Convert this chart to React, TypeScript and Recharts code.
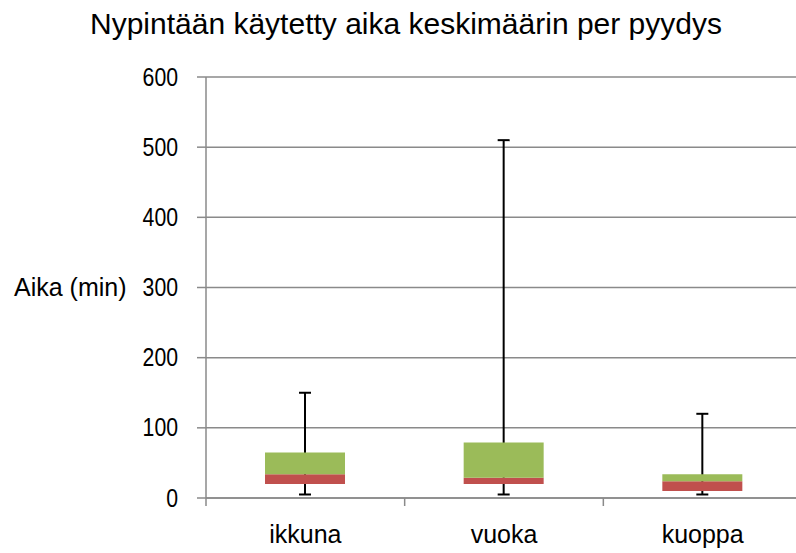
import React from 'react';
import { ComposedChart, Bar, XAxis, YAxis, CartesianGrid } from 'recharts';

const categories = ['ikkuna', 'vuoka', 'kuoppa'];
const minValues = [5, 5, 5];
const q1Values = [20, 20, 10];
const medianValues = [34, 29, 24];
const q3Values = [65, 79, 34];
const maxValues = [150, 510, 120];
const yTicks = [0, 100, 200, 300, 400, 500, 600];

const data = categories.map((name, i) => ({
  name,
  base: q1Values[i],
  lower: medianValues[i] - q1Values[i],
  upper: q3Values[i] - medianValues[i],
  range: [minValues[i], maxValues[i]],
}));

const GRAY = '#8a8a8a';
const FONT = 'Liberation Sans, Arial, sans-serif';

function Whisker(props: { x?: number; y?: number; width?: number; height?: number }) {
  const { x = 0, y = 0, width = 0, height = 0 } = props;
  const cx = x + width / 2;
  return (
    <g stroke="#000" strokeWidth={2}>
      <line x1={cx} y1={y} x2={cx} y2={y + height} />
      <line x1={x} y1={y} x2={x + width} y2={y} />
      <line x1={x} y1={y + height} x2={x + width} y2={y + height} />
    </g>
  );
}

// category label plus the tick marks on the band edges
function CategoryTick(props: {
  x?: number;
  y?: number;
  width?: number;
  index?: number;
  visibleTicksCount?: number;
  payload?: { value: string };
}) {
  const { x = 0, y = 0, width = 0, index = 0, visibleTicksCount = 3, payload } = props;
  const band = width / visibleTicksCount;
  return (
    <g>
      {index === 0 && (
        <line x1={x - band / 2} y1={y} x2={x - band / 2} y2={y + 8} stroke={GRAY} strokeWidth={1.5} />
      )}
      <line x1={x + band / 2} y1={y} x2={x + band / 2} y2={y + 8} stroke={GRAY} strokeWidth={1.5} />
      <text x={x} y={y + 45} textAnchor="middle" fontSize={25} fontFamily={FONT} fill="#000">
        {payload ? payload.value : ''}
      </text>
    </g>
  );
}

function ValueTick(props: { x?: number; y?: number; payload?: { value: number } }) {
  const { x = 0, y = 0, payload } = props;
  return (
    <text
      transform={`translate(${x},${y}) scale(0.85,1)`}
      textAnchor="end"
      dominantBaseline="central"
      fontSize={25}
      fontFamily={FONT}
      fill="#000"
    >
      {payload ? payload.value : ''}
    </text>
  );
}

export default function App() {
  return (
    <div
      style={{
        position: 'fixed',
        left: 0,
        top: 0,
        width: 796,
        height: 553,
        overflow: 'hidden',
        background: '#fff',
      }}
    >
      <div
        style={{
          position: 'absolute',
          left: 0,
          top: 9,
          width: 812,
          textAlign: 'center',
          fontFamily: FONT,
          fontSize: 30,
          lineHeight: '30px',
          color: '#000',
          whiteSpace: 'nowrap',
        }}
      >
        Nypintään käytetty aika keskimäärin per pyydys
      </div>
      <ComposedChart
        width={810}
        height={553}
        data={data}
        margin={{ top: 77, right: 8, bottom: 0, left: 0 }}
      >
        <CartesianGrid vertical={false} stroke={GRAY} strokeWidth={1.5} xAxisId="cat" />
        <XAxis
          xAxisId="cat"
          dataKey="name"
          interval={0}
          tickLine={false}
          tickSize={0}
          tickMargin={0}
          axisLine={{ stroke: GRAY, strokeWidth: 1.5 }}
          tick={<CategoryTick />}
          height={55}
        />
        <XAxis xAxisId="w" dataKey="name" hide height={0} />
        <YAxis
          width={206}
          domain={[0, 600]}
          ticks={yTicks}
          interval={0}
          tickSize={9}
          tickMargin={19}
          axisLine={{ stroke: GRAY, strokeWidth: 1.5 }}
          tickLine={{ stroke: GRAY, strokeWidth: 1.5 }}
          tick={<ValueTick />}
          label={{
            value: 'Aika (min)',
            position: 'insideLeft',
            offset: 14,
            fill: '#000',
            fontSize: 25,
            fontFamily: FONT,
          }}
        />
        <Bar
          xAxisId="w"
          dataKey="range"
          barSize={12}
          shape={<Whisker />}
          isAnimationActive={false}
        />
        <Bar xAxisId="cat" dataKey="base" stackId="box" fill="transparent" barSize={80} isAnimationActive={false} />
        <Bar xAxisId="cat" dataKey="lower" stackId="box" fill="#C0504D" barSize={80} isAnimationActive={false} />
        <Bar xAxisId="cat" dataKey="upper" stackId="box" fill="#9BBB59" barSize={80} isAnimationActive={false} />
      </ComposedChart>
    </div>
  );
}
